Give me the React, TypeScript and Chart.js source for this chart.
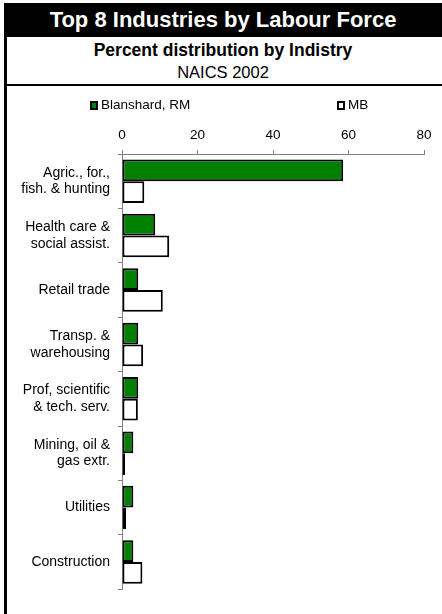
import React, { useEffect, useRef } from "react";
import { Chart, registerables } from "chart.js";
Chart.register(...registerables);

const categories: (string | string[])[] = [
  ["Agric., for.,", "fish. & hunting"],
  ["Health care &", "social assist."],
  "Retail trade",
  ["Transp. &", "warehousing"],
  ["Prof, scientific", "& tech. serv."],
  ["Mining, oil &", "gas extr."],
  "Utilities",
  "Construction",
];
const blanshard = [58.6, 8.8, 4.3, 4.3, 4.3, 3.0, 3.0, 3.0];
const mb = [5.9, 12.5, 10.8, 5.6, 4.2, 0.8, 1.1, 5.4];
const seriesNames = ["Blanshard, RM", "MB"];
const seriesColors = ["#008000", "#ffffff"];
const xMin = 0;
const xMax = 80;
const xStep = 20;

const FONT = "Arial, 'Liberation Sans', sans-serif";

export default function App() {
  const ref = useRef<HTMLCanvasElement | null>(null);

  useEffect(() => {
    if (!ref.current) return;
    const chart = new Chart(ref.current, {
      type: "bar",
      data: {
        labels: categories,
        datasets: [
          {
            label: seriesNames[0],
            data: blanshard,
            backgroundColor: seriesColors[0],
            borderColor: "#000",
            borderWidth: 2,
            borderSkipped: false,
            categoryPercentage: 0.8,
            barPercentage: 1,
          },
          {
            label: seriesNames[1],
            data: mb,
            backgroundColor: seriesColors[1],
            borderColor: "#000",
            borderWidth: 2,
            borderSkipped: false,
            categoryPercentage: 0.8,
            barPercentage: 1,
          },
        ],
      },
      options: {
        indexAxis: "y",
        animation: false,
        responsive: false,
        devicePixelRatio: 1,
        layout: { padding: { left: 0, right: 18, top: 0, bottom: 5 } },
        plugins: {
          legend: { display: false },
          title: { display: false },
          tooltip: { enabled: false },
        },
        scales: {
          x: {
            position: "top",
            min: xMin,
            max: xMax,
            ticks: {
              stepSize: xStep,
              color: "#000",
              font: { family: FONT, size: 13.5 },
              padding: 7,
            },
            grid: {
              drawOnChartArea: false,
              tickLength: 4,
              color: "#808080",
            },
            border: { color: "#808080", width: 1 },
            afterFit: (s: any) => {
              s.height = 66;
            },
          },
          y: {
            ticks: {
              color: "#000",
              font: { family: FONT, size: 14, lineHeight: 1.2 },
              padding: 8,
            },
            grid: {
              drawOnChartArea: false,
              tickLength: 4,
              color: "#808080",
              offset: true,
            },
            border: { color: "#808080", width: 1 },
            afterFit: (s: any) => {
              s.width = 122;
            },
          },
        },
      },
    });
    return () => chart.destroy();
  }, []);

  const legendBox = (color: string): React.CSSProperties => ({
    position: "absolute",
    boxSizing: "border-box",
    width: 8,
    height: 9,
    border: "2px solid #000",
    background: color,
  });

  const legendText: React.CSSProperties = {
    position: "absolute",
    top: 97,
    fontSize: 13.5,
    lineHeight: "16px",
    color: "#000",
    whiteSpace: "nowrap",
  };

  return (
    <div
      style={{
        position: "absolute",
        left: 0,
        top: 0,
        width: 442,
        height: 614,
        background: "#fff",
        fontFamily: FONT,
        overflow: "hidden",
      }}
    >
      <div
        style={{
          position: "absolute",
          left: 4,
          top: 3,
          width: 438,
          height: 34,
          background: "#000",
          color: "#fff",
          fontWeight: "bold",
          fontSize: 22,
          lineHeight: "34px",
          textAlign: "center",
          whiteSpace: "nowrap",
        }}
      >
        Top 8 Industries by Labour Force
      </div>
      <div
        style={{
          position: "absolute",
          left: 4,
          top: 40,
          width: 438,
          fontWeight: "bold",
          fontSize: 17.5,
          lineHeight: "20px",
          textAlign: "center",
          color: "#000",
          whiteSpace: "nowrap",
        }}
      >
        Percent distribution by Indistry
      </div>
      <div
        style={{
          position: "absolute",
          left: 4,
          top: 62,
          width: 438,
          fontSize: 16.5,
          lineHeight: "20px",
          textAlign: "center",
          color: "#000",
          whiteSpace: "nowrap",
        }}
      >
        NAICS 2002
      </div>
      <div
        style={{
          position: "absolute",
          left: 4,
          top: 84,
          width: 438,
          height: 2,
          background: "#000",
        }}
      />
      <canvas
        ref={ref}
        width={442}
        height={526}
        style={{ position: "absolute", left: 0, top: 88, width: 442, height: 526 }}
      />
      <div style={{ ...legendBox(seriesColors[0]), left: 90, top: 101 }} />
      <div style={{ ...legendText, left: 101 }}>{seriesNames[0]}</div>
      <div style={{ ...legendBox(seriesColors[1]), left: 337, top: 101 }} />
      <div style={{ ...legendText, left: 348 }}>{seriesNames[1]}</div>
      <div
        style={{
          position: "absolute",
          left: 4,
          top: 37,
          width: 3,
          height: 577,
          background: "#000",
        }}
      />
    </div>
  );
}
